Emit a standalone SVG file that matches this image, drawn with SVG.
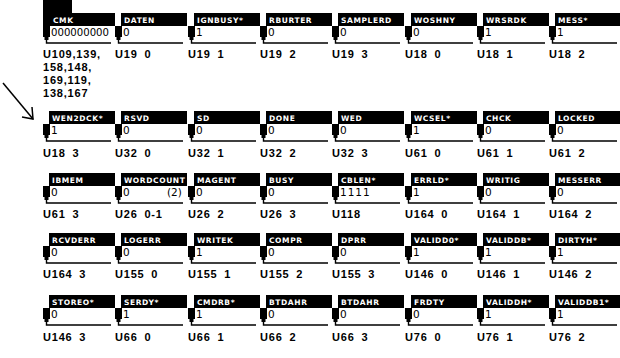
<svg xmlns="http://www.w3.org/2000/svg" xmlns:xlink="http://www.w3.org/1999/xlink" width="620" height="358" viewBox="0 0 620 358">
<style>
.hdr{fill:#000}
.ht{fill:#fff;font-family:"DejaVu Sans",sans-serif;font-size:7.5px;font-weight:bold;letter-spacing:0.6px}
.val{fill:#000;font-family:"DejaVu Sans",sans-serif;font-size:10.5px}
.lbl{fill:#000;font-family:"Liberation Sans",Arial,sans-serif;font-size:11px;font-weight:bold;letter-spacing:0.8px;word-spacing:3px}
.br{fill:none;stroke:#000;stroke-width:1.4}
.arrow{fill:none;stroke:#000;stroke-width:1.5}
</style>
<defs>
<g id="frame">
<rect x="0" y="13" width="7" height="11" fill="#000"/>
<rect x="1.5" y="23" width="4" height="4" fill="#000"/>
<path class="br" d="M3.5,26 V30 H68"/>
</g>
<g id="hd"><rect class="hdr" x="6" y="0" width="66" height="13"/></g>
</defs>
<rect width="620" height="358" fill="#fff"/>

<!-- Row 0 -->
<g id="n-U109" transform="translate(43,13)">
<rect class="hdr" x="0" y="-13" width="29" height="14"/>
<rect class="hdr" x="0" y="0" width="72" height="13"/>
<text class="ht" x="10" y="10">CMK</text>
<use href="#frame"/>
<text class="val" x="8" y="23" font-size="9.5" textLength="58" lengthAdjust="spacingAndGlyphs">000000000</text>
<text class="lbl" x="0" y="45">U109,139,</text>
<text class="lbl" x="0" y="58">158,148,</text>
<text class="lbl" x="0" y="71">169,119,</text>
<text class="lbl" x="0" y="84">138,167</text>
</g>
<g id="n-U19-0" transform="translate(115,13)"><use href="#hd"/><text class="ht" x="9" y="10">DATEN</text><use href="#frame"/><text class="val" x="8" y="23">0</text><text class="lbl" x="0" y="45">U19 0</text></g>
<g id="n-U19-1" transform="translate(188,13)"><use href="#hd"/><text class="ht" x="9" y="10">IGNBUSY*</text><use href="#frame"/><text class="val" x="8" y="23">1</text><text class="lbl" x="0" y="45">U19 1</text></g>
<g id="n-U19-2" transform="translate(260,13)"><use href="#hd"/><text class="ht" x="9" y="10">RBURTER</text><use href="#frame"/><text class="val" x="8" y="23">0</text><text class="lbl" x="0" y="45">U19 2</text></g>
<g id="n-U19-3" transform="translate(332,13)"><use href="#hd"/><text class="ht" x="9" y="10">SAMPLERD</text><use href="#frame"/><text class="val" x="8" y="23">0</text><text class="lbl" x="0" y="45">U19 3</text></g>
<g id="n-U18-0" transform="translate(405,13)"><use href="#hd"/><text class="ht" x="9" y="10">WOSHNY</text><use href="#frame"/><text class="val" x="8" y="23">0</text><text class="lbl" x="0" y="45">U18 0</text></g>
<g id="n-U18-1" transform="translate(477,13)"><use href="#hd"/><text class="ht" x="9" y="10">WRSRDK</text><use href="#frame"/><text class="val" x="8" y="23">1</text><text class="lbl" x="0" y="45">U18 1</text></g>
<g id="n-U18-2" transform="translate(549,13)"><use href="#hd"/><text class="ht" x="9" y="10">MESS*</text><use href="#frame"/><text class="val" x="8" y="23">1</text><text class="lbl" x="0" y="45">U18 2</text></g>

<!-- Row 1 -->
<g id="n-U18-3" transform="translate(43,111)"><use href="#hd"/><text class="ht" x="9" y="10">WEN2DCK*</text><use href="#frame"/><text class="val" x="8" y="23">1</text><text class="lbl" x="0" y="46">U18 3</text></g>
<g id="n-U32-0" transform="translate(115,111)"><use href="#hd"/><text class="ht" x="9" y="10">RSVD</text><use href="#frame"/><text class="val" x="8" y="23">0</text><text class="lbl" x="0" y="46">U32 0</text></g>
<g id="n-U32-1" transform="translate(188,111)"><use href="#hd"/><text class="ht" x="9" y="10">SD</text><use href="#frame"/><text class="val" x="8" y="23">0</text><text class="lbl" x="0" y="46">U32 1</text></g>
<g id="n-U32-2" transform="translate(260,111)"><use href="#hd"/><text class="ht" x="9" y="10">DONE</text><use href="#frame"/><text class="val" x="8" y="23">0</text><text class="lbl" x="0" y="46">U32 2</text></g>
<g id="n-U32-3" transform="translate(332,111)"><use href="#hd"/><text class="ht" x="9" y="10">WED</text><use href="#frame"/><text class="val" x="8" y="23">0</text><text class="lbl" x="0" y="46">U32 3</text></g>
<g id="n-U61-0" transform="translate(405,111)"><use href="#hd"/><text class="ht" x="9" y="10">WCSEL*</text><use href="#frame"/><text class="val" x="8" y="23">1</text><text class="lbl" x="0" y="46">U61 0</text></g>
<g id="n-U61-1" transform="translate(477,111)"><use href="#hd"/><text class="ht" x="9" y="10">CHCK</text><use href="#frame"/><text class="val" x="8" y="23">0</text><text class="lbl" x="0" y="46">U61 1</text></g>
<g id="n-U61-2" transform="translate(549,111)"><use href="#hd"/><text class="ht" x="9" y="10">LOCKED</text><use href="#frame"/><text class="val" x="8" y="23">0</text><text class="lbl" x="0" y="46">U61 2</text></g>

<!-- Row 2 -->
<g id="n-U61-3" transform="translate(43,173)"><use href="#hd"/><text class="ht" x="9" y="10">IBMEM</text><use href="#frame"/><text class="val" x="8" y="23">0</text><text class="lbl" x="0" y="45">U61 3</text></g>
<g id="n-U26-01" transform="translate(115,173)"><use href="#hd"/><text class="ht" x="9" y="10">WORDCOUNT</text><use href="#frame"/><text class="val" x="8" y="23">0</text><text class="val" x="52" y="23">(2)</text><text class="lbl" x="0" y="45">U26 0-1</text></g>
<g id="n-U26-2" transform="translate(188,173)"><use href="#hd"/><text class="ht" x="9" y="10">MAGENT</text><use href="#frame"/><text class="val" x="8" y="23">0</text><text class="lbl" x="0" y="45">U26 2</text></g>
<g id="n-U26-3" transform="translate(260,173)"><use href="#hd"/><text class="ht" x="9" y="10">BUSY</text><use href="#frame"/><text class="val" x="8" y="23">0</text><text class="lbl" x="0" y="45">U26 3</text></g>
<g id="n-U118" transform="translate(332,173)"><use href="#hd"/><text class="ht" x="9" y="10">CBLEN*</text><use href="#frame"/><text class="val" x="8" y="23" letter-spacing="1">1111</text><text class="lbl" x="0" y="45">U118</text></g>
<g id="n-U164-0" transform="translate(405,173)"><use href="#hd"/><text class="ht" x="9" y="10">ERRLD*</text><use href="#frame"/><text class="val" x="8" y="23">1</text><text class="lbl" x="0" y="45">U164 0</text></g>
<g id="n-U164-1" transform="translate(477,173)"><use href="#hd"/><text class="ht" x="9" y="10">WRITIG</text><use href="#frame"/><text class="val" x="8" y="23">0</text><text class="lbl" x="0" y="45">U164 1</text></g>
<g id="n-U164-2" transform="translate(549,173)"><use href="#hd"/><text class="ht" x="9" y="10">MESSERR</text><use href="#frame"/><text class="val" x="8" y="23">0</text><text class="lbl" x="0" y="45">U164 2</text></g>

<!-- Row 3 -->
<g id="n-U164-3" transform="translate(43,233)"><use href="#hd"/><text class="ht" x="9" y="10">RCVDERR</text><use href="#frame"/><text class="val" x="8" y="23">0</text><text class="lbl" x="0" y="45">U164 3</text></g>
<g id="n-U155-0" transform="translate(115,233)"><use href="#hd"/><text class="ht" x="9" y="10">LOGERR</text><use href="#frame"/><text class="val" x="8" y="23">0</text><text class="lbl" x="0" y="45">U155 0</text></g>
<g id="n-U155-1" transform="translate(188,233)"><use href="#hd"/><text class="ht" x="9" y="10">WRITEK</text><use href="#frame"/><text class="val" x="8" y="23">1</text><text class="lbl" x="0" y="45">U155 1</text></g>
<g id="n-U155-2" transform="translate(260,233)"><use href="#hd"/><text class="ht" x="9" y="10">COMPR</text><use href="#frame"/><text class="val" x="8" y="23">0</text><text class="lbl" x="0" y="45">U155 2</text></g>
<g id="n-U155-3" transform="translate(332,233)"><use href="#hd"/><text class="ht" x="9" y="10">DPRR</text><use href="#frame"/><text class="val" x="8" y="23">0</text><text class="lbl" x="0" y="45">U155 3</text></g>
<g id="n-U146-0" transform="translate(405,233)"><use href="#hd"/><text class="ht" x="9" y="10">VALIDD0*</text><use href="#frame"/><text class="val" x="8" y="23">1</text><text class="lbl" x="0" y="45">U146 0</text></g>
<g id="n-U146-1" transform="translate(477,233)"><use href="#hd"/><text class="ht" x="9" y="10">VALIDDB*</text><use href="#frame"/><text class="val" x="8" y="23">1</text><text class="lbl" x="0" y="45">U146 1</text></g>
<g id="n-U146-2" transform="translate(549,233)"><use href="#hd"/><text class="ht" x="9" y="10">DIRTYH*</text><use href="#frame"/><text class="val" x="8" y="23">1</text><text class="lbl" x="0" y="45">U146 2</text></g>

<!-- Row 4 -->
<g id="n-U146-3" transform="translate(43,295)"><use href="#hd"/><text class="ht" x="9" y="10">STOREO*</text><use href="#frame"/><text class="val" x="8" y="23">0</text><text class="lbl" x="0" y="46">U146 3</text></g>
<g id="n-U66-0" transform="translate(115,295)"><use href="#hd"/><text class="ht" x="9" y="10">SERDY*</text><use href="#frame"/><text class="val" x="8" y="23">1</text><text class="lbl" x="0" y="46">U66 0</text></g>
<g id="n-U66-1" transform="translate(188,295)"><use href="#hd"/><text class="ht" x="9" y="10">CMDRB*</text><use href="#frame"/><text class="val" x="8" y="23">1</text><text class="lbl" x="0" y="46">U66 1</text></g>
<g id="n-U66-2" transform="translate(260,295)"><use href="#hd"/><text class="ht" x="9" y="10">BTDAHR</text><use href="#frame"/><text class="val" x="8" y="23">0</text><text class="lbl" x="0" y="46">U66 2</text></g>
<g id="n-U66-3" transform="translate(332,295)"><use href="#hd"/><text class="ht" x="9" y="10">BTDAHR</text><use href="#frame"/><text class="val" x="8" y="23">0</text><text class="lbl" x="0" y="46">U66 3</text></g>
<g id="n-U76-0" transform="translate(405,295)"><use href="#hd"/><text class="ht" x="9" y="10">FRDTY</text><use href="#frame"/><text class="val" x="8" y="23">0</text><text class="lbl" x="0" y="46">U76 0</text></g>
<g id="n-U76-1" transform="translate(477,295)"><use href="#hd"/><text class="ht" x="9" y="10">VALIDDH*</text><use href="#frame"/><text class="val" x="8" y="23">1</text><text class="lbl" x="0" y="46">U76 1</text></g>
<g id="n-U76-2" transform="translate(549,295)"><use href="#hd"/><text class="ht" x="9" y="10">VALIDDB1*</text><use href="#frame"/><text class="val" x="8" y="23">1</text><text class="lbl" x="0" y="46">U76 2</text></g>

<g id="connectors">
<path class="arrow" d="M3,83 L33,119"/>
<path class="arrow" d="M22,117 L33,119 L32,107"/>
</g>
</svg>
